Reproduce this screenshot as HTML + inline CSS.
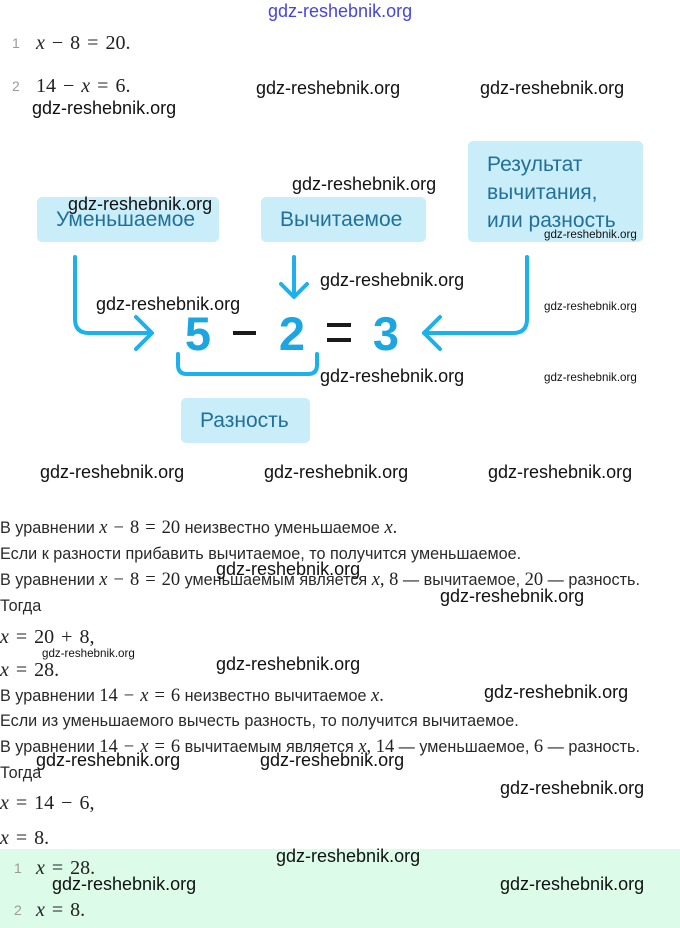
<!DOCTYPE html>
<html><head><meta charset="utf-8">
<style>
html,body{margin:0;padding:0;background:#fff;}
body{width:680px;height:928px;position:relative;overflow:hidden;font-family:"Liberation Sans","Noto Sans CJK SC",sans-serif;}
.a{position:absolute;white-space:nowrap;}
.wm{position:absolute;white-space:nowrap;font-family:"Liberation Sans",sans-serif;font-size:18px;line-height:20px;color:#111;}
.ws{position:absolute;white-space:nowrap;font-family:"Liberation Sans",sans-serif;font-size:11.6px;line-height:14px;color:#111;}
.t{position:absolute;left:0;white-space:nowrap;font-size:16.2px;line-height:22px;height:22px;color:#2a2a2a;}
.m{font-family:"Liberation Serif",serif;font-size:18.5px;color:#222;}
.mi{font-family:"Liberation Serif",serif;font-style:italic;}
.o{margin:0 6px;}
.ml .o{margin:0 7px;}
.num{position:absolute;font-size:14px;color:#9a9a9a;line-height:22px;}
.ml{position:absolute;white-space:nowrap;font-family:"Liberation Serif",serif;font-size:20px;line-height:24px;color:#222;}
.box{position:absolute;background:#c9eef9;border-radius:5px;color:#22709a;font-size:21px;}
</style></head>
<body>
<div class="a" style="left:268px;top:1px;font-size:18px;color:#4646dc;line-height:20px;">gdz-reshebnik.org</div>

<div class="num" style="left:12px;top:32px;">1</div>
<div class="ml" style="left:36px;top:31px;"><span class="mi">x</span><span class="o">−</span>8<span class="o">=</span>20.</div>
<div class="num" style="left:12px;top:75px;">2</div>
<div class="ml" style="left:36px;top:74px;">14<span class="o">−</span><span class="mi">x</span><span class="o">=</span>6.</div>

<!-- boxes -->
<div class="box" style="left:37px;top:197px;width:182px;height:45px;"><span class="a" style="left:19px;top:11px;">Уменьшаемое</span></div>
<div class="box" style="left:261px;top:197px;width:165px;height:45px;"><span class="a" style="left:19px;top:11px;">Вычитаемое</span></div>
<div class="box" style="left:468px;top:141px;width:175px;height:101px;"><span class="a" style="left:19px;top:10px;line-height:28px;">Результат<br>вычитания,<br>или разность</span></div>
<div class="box" style="left:181px;top:398px;width:129px;height:45px;"><span class="a" style="left:19px;top:11px;">Разность</span></div>

<svg class="a" style="left:0;top:0;" width="680" height="928" viewBox="0 0 680 928">
<g fill="none" stroke="#1cb0ec" stroke-width="4" stroke-linecap="round" stroke-linejoin="round">
<path d="M75 257 V319 Q75 333 89 333 H150"/>
<path d="M136 317 L152 333 L136 349"/>
<path d="M527 257 V319 Q527 333 513 333 H424"/>
<path d="M440 317 L424 333 L440 349"/>
<path d="M294 257 V296"/>
<path d="M281 284 L294 297 L307 284"/>
<path d="M178 354 V365 Q178 374 187 374 H308 Q317 374 317 365 V354"/>
</g>
<g font-family="Liberation Sans, sans-serif" font-weight="bold" font-size="47" fill="#1ba6e2" text-anchor="middle">
<text x="198" y="350">5</text>
<text x="292" y="350">2</text>
<text x="386" y="350">3</text>
</g>
<rect x="233" y="331" width="23" height="4" fill="#1a1a1a"/>
<rect x="327" y="323" width="24" height="4" fill="#1a1a1a"/>
<rect x="327" y="338" width="24" height="4" fill="#1a1a1a"/>
</svg>

<!-- text section -->
<div class="t" style="top:517px;">В уравнении <span class="m"><span class="mi">x</span><span class="o">−</span>8<span class="o">=</span>20</span> неизвестно уменьшаемое <span class="m mi">x</span><span class="m">.</span></div>
<div class="t" style="top:543px;">Если к разности прибавить вычитаемое, то получится уменьшаемое.</div>
<div class="t" style="top:569px;">В уравнении <span class="m"><span class="mi">x</span><span class="o">−</span>8<span class="o">=</span>20</span> уменьшаемым является <span class="m"><span class="mi">x</span>, 8</span> — вычитаемое, <span class="m">20</span> — разность.</div>
<div class="t" style="top:595px;">Тогда</div>
<div class="ml" style="left:0;top:625px;"><span class="mi">x</span><span class="o">=</span>20<span class="o">+</span>8,</div>
<div class="ml" style="left:0;top:658px;"><span class="mi">x</span><span class="o">=</span>28.</div>
<div class="t" style="top:685px;">В уравнении <span class="m">14<span class="o">−</span><span class="mi">x</span><span class="o">=</span>6</span> неизвестно вычитаемое <span class="m mi">x</span><span class="m">.</span></div>
<div class="t" style="top:710px;">Если из уменьшаемого вычесть разность, то получится вычитаемое.</div>
<div class="t" style="top:736px;">В уравнении <span class="m">14<span class="o">−</span><span class="mi">x</span><span class="o">=</span>6</span> вычитаемым является <span class="m"><span class="mi">x</span>, 14</span> — уменьшаемое, <span class="m">6</span> — разность.</div>
<div class="t" style="top:762px;">Тогда</div>
<div class="ml" style="left:0;top:791px;"><span class="mi">x</span><span class="o">=</span>14<span class="o">−</span>6,</div>
<div class="ml" style="left:0;top:826px;"><span class="mi">x</span><span class="o">=</span>8.</div>

<div class="a" style="left:0;top:849px;width:680px;height:79px;background:#dcfce9;"></div>
<div class="num" style="left:14px;top:857px;">1</div>
<div class="ml" style="left:36px;top:856px;"><span class="mi">x</span><span class="o">=</span>28.</div>
<div class="num" style="left:14px;top:899px;">2</div>
<div class="ml" style="left:36px;top:898px;"><span class="mi">x</span><span class="o">=</span>8.</div>

<!-- watermarks -->
<div class="wm" style="left:256px;top:78px;">gdz-reshebnik.org</div>
<div class="wm" style="left:480px;top:78px;">gdz-reshebnik.org</div>
<div class="wm" style="left:32px;top:98px;">gdz-reshebnik.org</div>
<div class="wm" style="left:292px;top:174px;">gdz-reshebnik.org</div>
<div class="wm" style="left:68px;top:194px;">gdz-reshebnik.org</div>
<div class="ws" style="left:544px;top:228px;">gdz-reshebnik.org</div>
<div class="wm" style="left:320px;top:270px;">gdz-reshebnik.org</div>
<div class="wm" style="left:96px;top:294px;">gdz-reshebnik.org</div>
<div class="ws" style="left:544px;top:300px;">gdz-reshebnik.org</div>
<div class="wm" style="left:320px;top:366px;">gdz-reshebnik.org</div>
<div class="ws" style="left:544px;top:371px;">gdz-reshebnik.org</div>
<div class="wm" style="left:40px;top:462px;">gdz-reshebnik.org</div>
<div class="wm" style="left:264px;top:462px;">gdz-reshebnik.org</div>
<div class="wm" style="left:488px;top:462px;">gdz-reshebnik.org</div>
<div class="wm" style="left:216px;top:559px;">gdz-reshebnik.org</div>
<div class="wm" style="left:440px;top:586px;">gdz-reshebnik.org</div>
<div class="ws" style="left:42px;top:647px;">gdz-reshebnik.org</div>
<div class="wm" style="left:216px;top:654px;">gdz-reshebnik.org</div>
<div class="wm" style="left:484px;top:682px;">gdz-reshebnik.org</div>
<div class="wm" style="left:36px;top:750px;">gdz-reshebnik.org</div>
<div class="wm" style="left:260px;top:750px;">gdz-reshebnik.org</div>
<div class="wm" style="left:500px;top:778px;">gdz-reshebnik.org</div>
<div class="wm" style="left:276px;top:846px;">gdz-reshebnik.org</div>
<div class="wm" style="left:52px;top:874px;">gdz-reshebnik.org</div>
<div class="wm" style="left:500px;top:874px;">gdz-reshebnik.org</div>
</body></html>
